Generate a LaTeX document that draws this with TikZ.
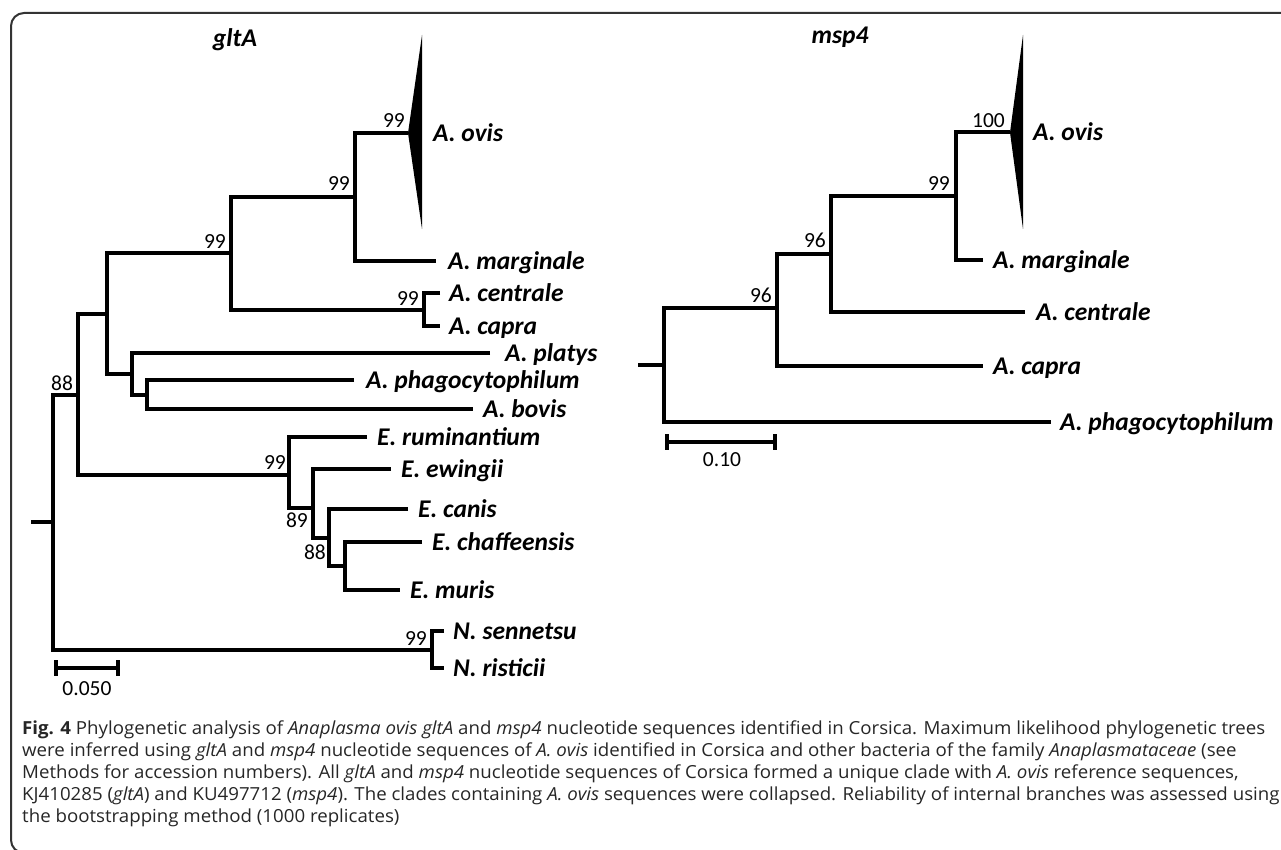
\documentclass[tikz,border=0pt]{standalone}
\usepackage{fontspec}
\usepackage{graphicx}
\newfontfamily\labfont{Carlito}
\newfontfamily\capfont{Open Sans}
\definecolor{frame}{HTML}{333333}
\definecolor{captxt}{HTML}{262626}
\newlength\capw
\newcommand\capLineA{\textbf{Fig. 4} Phylogenetic analysis of \textit{Anaplasma ovis gltA} and \textit{msp4} nucleotide sequences identified in Corsica. Maximum likelihood phylogenetic trees}
\newcommand\capLineB{were inferred using \textit{gltA} and \textit{msp4} nucleotide sequences of \textit{A. ovis} identified in Corsica and other bacteria of the family \textit{Anaplasmataceae} (see}
\newcommand\capLineC{Methods for accession numbers). All \textit{gltA} and \textit{msp4} nucleotide sequences of Corsica formed a unique clade with \textit{A. ovis} reference sequences,}
\newcommand\capLineD{KJ410285 (\textit{gltA}) and KU497712 (\textit{msp4}). The clades containing \textit{A. ovis} sequences were collapsed. Reliability of internal branches was assessed using}
\newcommand\capLineE{the bootstrapping method (1000 replicates)}
\AtBeginDocument{%
  \settowidth\capw{\capfont\fontsize{18}{22}\selectfont\capLineA}%
  \ifdim\capw<100pt \capw=1243pt\fi
  \pgfmathsetmacro\capsx{1243/\capw}%
}
\tikzset{
  br/.style={line width=4pt, line join=miter},
  lab/.style={anchor=west, inner sep=0pt, text height=16.4pt, text depth=0pt,
    font=\labfont\bfseries\itshape\fontsize{25.5}{25.5}\selectfont},
  ttl/.style={inner sep=0pt, font=\labfont\bfseries\itshape\fontsize{25.5}{25.5}\selectfont},
  bs/.style={inner sep=0pt, font=\labfont\fontsize{21.5}{21.5}\selectfont},
  captn/.style={anchor=base west, inner sep=0pt, text=captxt,
    font=\capfont\fontsize{18}{22}\selectfont}
}
\begin{document}
\begin{tikzpicture}[x=1pt,y=-1pt]
\useasboundingbox (0,0) rectangle (1281,850);
\begin{scope}
\clip (0,0) rectangle (1281,850);
\draw[frame, line width=2pt, rounded corners=13pt] (1300,13) -- (11,13) -- (11,853) -- (60,853);
\end{scope}

% ---------------- gltA ----------------
\node[ttl] (gtitle) at (235,40) {gltA};
\coordinate (gT) at (408,133);
\coordinate (gTtop) at (422,35);
\coordinate (gTbot) at (422,229);
\fill (gT) -- (gTtop) -- (gTbot) -- cycle;
\coordinate (gmar) at (436,261);
\coordinate (gn1) at (355,197);
\coordinate (gcen) at (440,293);
\coordinate (gcap) at (440,326);
\coordinate (gcc) at (424,309.5);
\coordinate (gn2) at (231,253.25);
\coordinate (gpla) at (490,353);
\coordinate (gpha) at (354,380);
\coordinate (gbov) at (473,409);
\coordinate (gn6) at (147,394.5);
\coordinate (gn5) at (132,373.75);
\coordinate (gn3) at (107,313.5);
\coordinate (grum) at (367,437);
\coordinate (gewi) at (391,469);
\coordinate (gcan) at (408,509);
\coordinate (gcha) at (422,542);
\coordinate (gmur) at (400,590);
\coordinate (ge4) at (345,566);
\coordinate (ge3) at (329,538);
\coordinate (ge2) at (313,508);
\coordinate (ge1) at (289,475);
\coordinate (gn4) at (78,394.5);
\coordinate (gsen) at (444,631);
\coordinate (gris) at (444,668);
\coordinate (gN) at (432,649.5);
\coordinate (groot) at (53,522);
\coordinate (gstub) at (31,522);

\draw[br] (gT) -| (gn1) |- (gmar);
\draw[br] (gcen) -| (gcc) |- (gcap);
\draw[br] (gn1) -| (gn2) |- (gcc);
\draw[br] (gpha) -| (gn6) |- (gbov);
\draw[br] (gpla) -| (gn5) |- (gn6);
\draw[br] (gn2) -| (gn3) |- (gn5);
\draw[br] (gcha) -| (ge4) |- (gmur);
\draw[br] (gcan) -| (ge3) |- (ge4);
\draw[br] (gewi) -| (ge2) |- (ge3);
\draw[br] (grum) -| (ge1) |- (ge2);
\draw[br] (gn3) -| (gn4) |- (ge1);
\draw[br] (gsen) -| (gN) |- (gris);
\draw[br] (gn4) -| (groot) |- (gN);
\draw[br] (gstub) -- (groot);

\node[lab] (lgovi) at ([xshift=11pt]gTtop |- gT) {A. ovis};
\node[lab] (lgmar) at ([xshift=12pt]gmar) {A. marginale};
\node[lab] (lgcen) at ([xshift=9pt]gcen) {A. centrale};
\node[lab] (lgcap) at ([xshift=9pt]gcap) {A. capra};
\node[lab] (lgpla) at ([xshift=15pt]gpla) {A. platys};
\node[lab] (lgpha) at ([xshift=12pt]gpha) {A. phagocytophilum};
\node[lab] (lgbov) at ([xshift=10pt]gbov) {A. bovis};
\node[lab] (lgrum) at ([xshift=10pt]grum) {E. ruminantium};
\node[lab] (lgewi) at ([xshift=10pt]gewi) {E. ewingii};
\node[lab] (lgcan) at ([xshift=10pt]gcan) {E. canis};
\node[lab] (lgcha) at ([xshift=10pt]gcha) {E. chaffeensis};
\node[lab] (lgmur) at ([xshift=10pt]gmur) {E. muris};
\node[lab] (lgsen) at ([xshift=9pt]gsen) {N. sennetsu};
\node[lab] (lgris) at ([xshift=9pt]gris) {N. risticii};

\node[bs, anchor=south east] (bg1) at ([xshift=-3pt,yshift=5pt]gT) {99};
\node[bs, anchor=south east] (bg2) at ([xshift=-5pt,yshift=6pt]gn1) {99};
\node[bs, anchor=south east] (bg3) at ([xshift=-5pt,yshift=5pt]gn2) {99};
\node[bs, anchor=south east] (bg4) at ([xshift=-5pt,yshift=4pt]gcc) {99};
\node[bs, anchor=south] (bg5) at ([xshift=-16pt,yshift=4pt]gn4) {88};
\node[bs, anchor=south east] (bg6) at ([xshift=-3pt,yshift=5pt]ge1) {99};
\node[bs, anchor=north east] (bg7) at ([xshift=-5pt,yshift=-5pt]ge2) {89};
\node[bs, anchor=north east] (bg8) at ([xshift=-3pt,yshift=-7pt]ge3) {88};
\node[bs, anchor=south east] (bg9) at ([xshift=-5pt,yshift=4pt]gN) {99};

\coordinate (gs1) at (56,668);
\coordinate (gs2) at (118,668);
\draw[br] (gs1) -- (gs2);
\draw[br] ([yshift=8pt]gs1) -- ([yshift=-8pt]gs1);
\draw[br] ([yshift=8pt]gs2) -- ([yshift=-8pt]gs2);
\node[bs] (gscale) at (87,689) {0.050};

% ---------------- msp4 ----------------
\node[ttl] (mtitle) at (840,37) {msp4};
\coordinate (mT) at (1010,132.5);
\coordinate (mTtop) at (1023,35);
\coordinate (mTbot) at (1023,229);
\fill (mT) -- (mTtop) -- (mTbot) -- cycle;
\coordinate (mmar) at (983,260);
\coordinate (mcen) at (1025,312);
\coordinate (mcap) at (983,366);
\coordinate (mpha) at (1051,422);
\coordinate (mn1) at (956,196.25);
\coordinate (mn2) at (831,254.1);
\coordinate (mn3) at (777,308);
\coordinate (mroot) at (664,365);
\coordinate (mstub) at (638,365);

\draw[br] (mT) -| (mn1) |- (mmar);
\draw[br] (mn1) -| (mn2) |- (mcen);
\draw[br] (mn2) -| (mn3) |- (mcap);
\draw[br] (mn3) -| (mroot) |- (mpha);
\draw[br] (mstub) -- (mroot);

\node[lab] (lmovi) at ([xshift=10pt]mTtop |- mT) {A. ovis};
\node[lab] (lmmar) at ([xshift=10pt]mmar) {A. marginale};
\node[lab] (lmcen) at ([xshift=11pt]mcen) {A. centrale};
\node[lab] (lmcap) at ([xshift=10pt]mcap) {A. capra};
\node[lab] (lmpha) at ([xshift=9pt]mpha) {A. phagocytophilum};

\node[bs, anchor=south east] (bm1) at ([xshift=-5pt,yshift=5pt]mT) {100};
\node[bs, anchor=south east] (bm2) at ([xshift=-6pt,yshift=6pt]mn1) {99};
\node[bs, anchor=south east] (bm3) at ([xshift=-5pt,yshift=6pt]mn2) {96};
\node[bs, anchor=south east] (bm4) at ([xshift=-5pt,yshift=5pt]mn3) {96};

\coordinate (ms1) at (667,442);
\coordinate (ms2) at (775,442);
\draw[br] (ms1) -- (ms2);
\draw[br] ([yshift=8pt]ms1) -- ([yshift=-8pt]ms1);
\draw[br] ([yshift=8pt]ms2) -- ([yshift=-8pt]ms2);
\node[bs] (mscale) at (722,460) {0.10};

% ---------------- caption ----------------
\node[captn] (c1) at (22,734) {\scalebox{\capsx}[1]{\capLineA}};
\node[captn] (c2) at (22,756) {\scalebox{\capsx}[1]{\capLineB}};
\node[captn] (c3) at (22,778) {\scalebox{\capsx}[1]{\capLineC}};
\node[captn] (c4) at (22,800) {\scalebox{\capsx}[1]{\capLineD}};
\node[captn] (c5) at (22,822) {\scalebox{\capsx}[1]{\capLineE}};
\end{tikzpicture}
\end{document}
